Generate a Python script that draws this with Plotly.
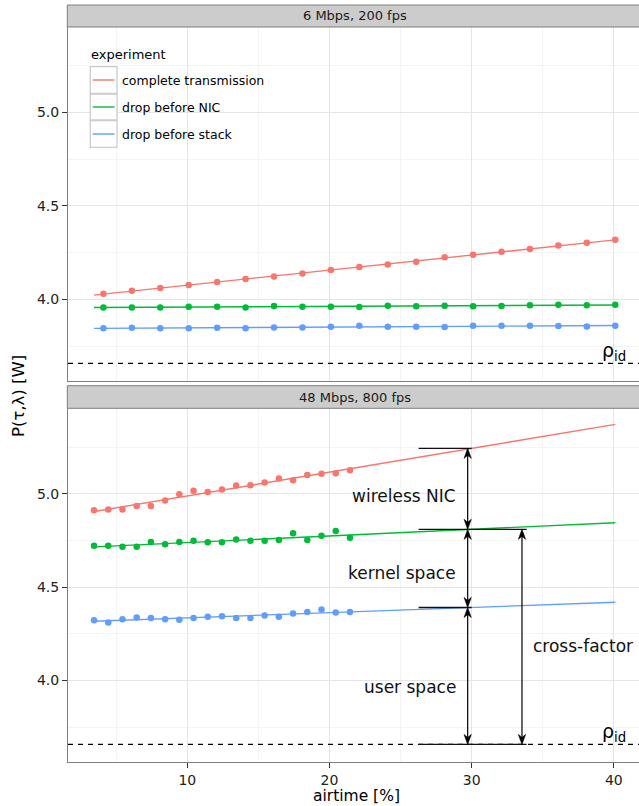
import numpy as np
import plotly.graph_objects as go

# ---------------- data ----------------
series_names = ["complete transmission", "drop before NIC", "drop before stack"]
series_colors = ["#F8766D", "#00BA38", "#619CFF"]
panel_titles = ["6 Mbps, 200 fps", "48 Mbps, 800 fps"]

airtime_6 = [4.1, 6.1, 8.1, 10.1, 12.1, 14.1, 16.1, 18.1, 20.1, 22.1,
             24.1, 26.1, 28.1, 30.1, 32.1, 34.1, 36.1, 38.1, 40.1]
complete_6 = [4.030, 4.046, 4.061, 4.077, 4.093, 4.109, 4.123, 4.139, 4.157, 4.173,
              4.187, 4.201, 4.225, 4.239, 4.255, 4.269, 4.289, 4.303, 4.319]
nic_6 = [3.957, 3.957, 3.957, 3.961, 3.961, 3.957, 3.964, 3.961, 3.961, 3.959,
         3.966, 3.963, 3.966, 3.963, 3.964, 3.968, 3.971, 3.969, 3.971]
stack_6 = [3.845, 3.848, 3.846, 3.845, 3.848, 3.846, 3.850, 3.850, 3.853, 3.859,
           3.853, 3.853, 3.852, 3.859, 3.859, 3.859, 3.857, 3.855, 3.859]

airtime_48 = [3.44, 4.44, 5.44, 6.44, 7.44, 8.44, 9.44, 10.44, 11.44, 12.44,
              13.44, 14.44, 15.44, 16.44, 17.44, 18.44, 19.44, 20.44, 21.44]
complete_48 = [4.912, 4.916, 4.916, 4.934, 4.935, 4.964, 4.998, 5.016, 5.010, 5.023,
               5.044, 5.046, 5.061, 5.082, 5.073, 5.101, 5.107, 5.110, 5.126]
nic_48 = [4.721, 4.721, 4.716, 4.716, 4.742, 4.730, 4.742, 4.748, 4.741, 4.741,
          4.755, 4.748, 4.748, 4.753, 4.789, 4.753, 4.775, 4.800, 4.764]
stack_48 = [4.323, 4.311, 4.328, 4.337, 4.335, 4.328, 4.325, 4.334, 4.341, 4.344,
            4.335, 4.334, 4.348, 4.341, 4.359, 4.366, 4.380, 4.364, 4.366]

rho_id = 3.657

# annotation geometry (data units of the lower panel)
bracket_left = 26.27
bracket_right_short = 30.0
bracket_right_long = 33.87
arrow_x = 29.72
cross_arrow_x = 33.54
part_labels = ["wireless NIC", "kernel space", "user space"]
part_label_y = [4.99, 4.576, 3.966]
part_label_x = 29.05
cross_label = "cross-factor"
cross_label_x = 34.15
cross_label_y = 4.185

x_range = [1.61, 41.77]
y_range = [3.563, 5.458]

# ---------------- layout helpers ----------------
W, H = 639, 806
ML, MR, MT, MB = 68, 0, 27, 44
PW, PH = W - ML - MR, H - MT - MB
BOT_TOP_PX = 408.3   # top of lower panel
TOP_BOT_PX = 381.0   # bottom of upper panel


def px2x(px):
    return (px - ML) / PW


def py2y(py):
    return 1 - (py - MT) / PH


# data units per pixel (lower panel)
UX = (x_range[1] - x_range[0]) / PW
UY = (y_range[1] - y_range[0]) / (MT + PH - BOT_TOP_PX)

FONT = "DejaVu Sans"
GRID_MAJOR = "#e5e5e5"
GRID_MINOR = "#f4f4f4"
BORDER = "#7f7f7f"

fig = go.Figure()

panels = [
    (airtime_6, [complete_6, nic_6, stack_6], "x", "y"),
    (airtime_48, [complete_48, nic_48, stack_48], "x2", "y2"),
]
x_all = airtime_6 + airtime_48
fit_x = [min(x_all), max(x_all)]
fits = []
for xs, ys_list, xa, ya in panels:
    pf = []
    for name, col, ys in zip(series_names, series_colors, ys_list):
        k, b = np.polyfit(xs, ys, 1)
        pf.append((k, b))
        fig.add_trace(go.Scatter(
            x=fit_x, y=[k * v + b for v in fit_x], mode="lines",
            line=dict(color=col, width=1.4), xaxis=xa, yaxis=ya,
            showlegend=False, hoverinfo="skip", name=name))
        fig.add_trace(go.Scatter(
            x=xs, y=ys, mode="markers",
            marker=dict(color=col, size=6.5, line=dict(width=0)),
            xaxis=xa, yaxis=ya, showlegend=False, name=name))
    fits.append(pf)

# levels of the fitted lines at x = 30 in the lower panel
lvl = [k * bracket_right_short + b for k, b in fits[1]]

axis_common = dict(
    range=x_range, dtick=10, tick0=0, showgrid=True, gridcolor=GRID_MAJOR,
    gridwidth=1, minor=dict(dtick=5, showgrid=True, gridcolor=GRID_MINOR),
    showline=True, linecolor=BORDER, linewidth=1, mirror=True, zeroline=False,
    automargin=False,
)
yaxis_common = dict(
    range=y_range, dtick=0.5, tick0=0, tickformat=".1f", showgrid=True,
    gridcolor=GRID_MAJOR, gridwidth=1,
    minor=dict(dtick=0.25, showgrid=True, gridcolor=GRID_MINOR),
    showline=True, linecolor=BORDER, linewidth=1, zeroline=False,
    ticks="outside", ticklen=5, tickcolor="#333333", tickwidth=1,
    tickfont=dict(family=FONT, size=14, color="#222222"),
    automargin=False,
)

fig.update_layout(
    width=W, height=H, margin=dict(l=ML, r=MR, t=MT, b=MB),
    paper_bgcolor="white", plot_bgcolor="white",
    font=dict(family=FONT, color="#000000"),
    xaxis=dict(axis_common, anchor="y", domain=[0, 1], showticklabels=False,
               ticks=""),
    xaxis2=dict(axis_common, anchor="y2", domain=[0, 1], matches="x",
                ticks="outside", ticklen=5, tickcolor="#333333",
                tickfont=dict(family=FONT, size=14, color="#222222")),
    yaxis=dict(yaxis_common, anchor="x", domain=[py2y(TOP_BOT_PX), 1]),
    yaxis2=dict(yaxis_common, anchor="x2", domain=[0, py2y(BOT_TOP_PX)]),
    showlegend=False,
)

shapes = []
annotations = []

# facet strips
for title, (top, bot) in zip(panel_titles, [(5, 27), (385.7, BOT_TOP_PX)]):
    shapes.append(dict(type="rect", xref="paper", yref="paper",
                       x0=px2x(67.3), x1=px2x(645), y0=py2y(top), y1=py2y(bot),
                       fillcolor="#cccccc", line=dict(color=BORDER, width=1),
                       layer="above"))
    annotations.append(dict(text=title, xref="paper", yref="paper",
                            x=px2x((68 + 641) / 2), y=py2y((top + bot) / 2),
                            showarrow=False, xanchor="center", yanchor="middle",
                            font=dict(family=FONT, size=13, color="#1a1a1a")))

# rho_id dashed lines and labels
for ya in ["y", "y2"]:
    shapes.append(dict(type="line", xref="paper", yref=ya, x0=0, x1=1,
                       y0=rho_id, y1=rho_id,
                       line=dict(color="black", width=1.2, dash="5px,5px")))
    annotations.append(dict(text="ρ<sub>id</sub>", xref="x" if ya == "y" else "x2",
                            yref=ya, x=40.0, y=rho_id, xanchor="center",
                            yanchor="bottom", yshift=-3, showarrow=False,
                            font=dict(family=FONT, size=19, color="black")))

# brackets in the lower panel
for yv, xr in [(lvl[0], bracket_right_short), (lvl[1], bracket_right_long),
               (lvl[2], bracket_right_short), (rho_id, bracket_right_long)]:
    shapes.append(dict(type="line", xref="x2", yref="y2", x0=bracket_left,
                       x1=xr, y0=yv, y1=yv,
                       line=dict(color="#111111", width=1.3)))


def head_path(xv, ytip, direction):
    # barbed arrowhead, direction +1 points up, -1 points down
    L, Wd, N = 10.0, 3.6, 7.0
    d = -direction
    pts = [(xv, ytip),
           (xv - Wd * UX, ytip + d * L * UY),
           (xv, ytip + d * N * UY),
           (xv + Wd * UX, ytip + d * L * UY)]
    return "M " + " L ".join(f"{a},{b}" for a, b in pts) + " Z"


arrow_pairs = [(arrow_x, lvl[0], lvl[1]), (arrow_x, lvl[1], lvl[2]),
               (arrow_x, lvl[2], rho_id), (cross_arrow_x, lvl[1], rho_id)]
for xv, y_top, y_bot in arrow_pairs:
    shapes.append(dict(type="line", xref="x2", yref="y2", x0=xv, x1=xv,
                       y0=y_bot + 4 * UY, y1=y_top - 4 * UY,
                       line=dict(color="black", width=1.2)))
    for ytip, dr in [(y_top, 1), (y_bot, -1)]:
        shapes.append(dict(type="path", xref="x2", yref="y2",
                           path=head_path(xv, ytip, dr), fillcolor="black",
                           line=dict(color="black", width=0.6)))

for txt, yv in zip(part_labels, part_label_y):
    annotations.append(dict(text=txt, xref="x2", yref="y2", x=part_label_x,
                            y=yv, xanchor="right", yanchor="middle",
                            showarrow=False,
                            font=dict(family=FONT, size=17, color="#111111")))
annotations.append(dict(text=cross_label, xref="x2", yref="y2",
                        x=cross_label_x, y=cross_label_y, xanchor="left",
                        yanchor="middle", showarrow=False,
                        font=dict(family=FONT, size=17, color="#111111")))

# axis titles
annotations.append(dict(text="P(τ,λ) [W]", xref="paper", yref="paper",
                        x=px2x(18), y=py2y(396), textangle=-90,
                        xanchor="center", yanchor="middle", showarrow=False,
                        font=dict(family=FONT, size=16.5, color="black")))
annotations.append(dict(text="airtime [%]", xref="paper", yref="paper",
                        x=px2x(356), y=py2y(796.5), xanchor="center",
                        yanchor="middle", showarrow=False, borderpad=0,
                        font=dict(family=FONT, size=15.5, color="black")))

# manual legend (ggplot style)
annotations.append(dict(text="experiment", xref="paper", yref="paper",
                        x=px2x(89), y=py2y(54), xanchor="left",
                        yanchor="middle", showarrow=False,
                        font=dict(family=FONT, size=13, color="black")))
rows = [(66.7, 93.3), (94, 120), (120.7, 147.3)]
for name, col, (t, b) in zip(series_names, series_colors, rows):
    shapes.append(dict(type="rect", xref="paper", yref="paper",
                       x0=px2x(90.3), x1=px2x(117), y0=py2y(t), y1=py2y(b),
                       fillcolor="white", line=dict(color="#cccccc", width=1.3),
                       layer="above"))
    mid = (t + b) / 2
    shapes.append(dict(type="line", xref="paper", yref="paper",
                       x0=px2x(92.7), x1=px2x(114.5), y0=py2y(mid),
                       y1=py2y(mid), line=dict(color=col, width=1.4),
                       layer="above"))
    annotations.append(dict(text=name, xref="paper", yref="paper",
                            x=px2x(119.5), y=py2y(mid), xanchor="left",
                            yanchor="middle", showarrow=False,
                            font=dict(family=FONT, size=12.5, color="black")))

fig.update_layout(shapes=shapes, annotations=annotations)
fig.write_html(
    "out.html",
    config={"displayModeBar": False},
    post_script="document.body.style.margin='0px';"
                "document.body.style.overflow='hidden';",
)
